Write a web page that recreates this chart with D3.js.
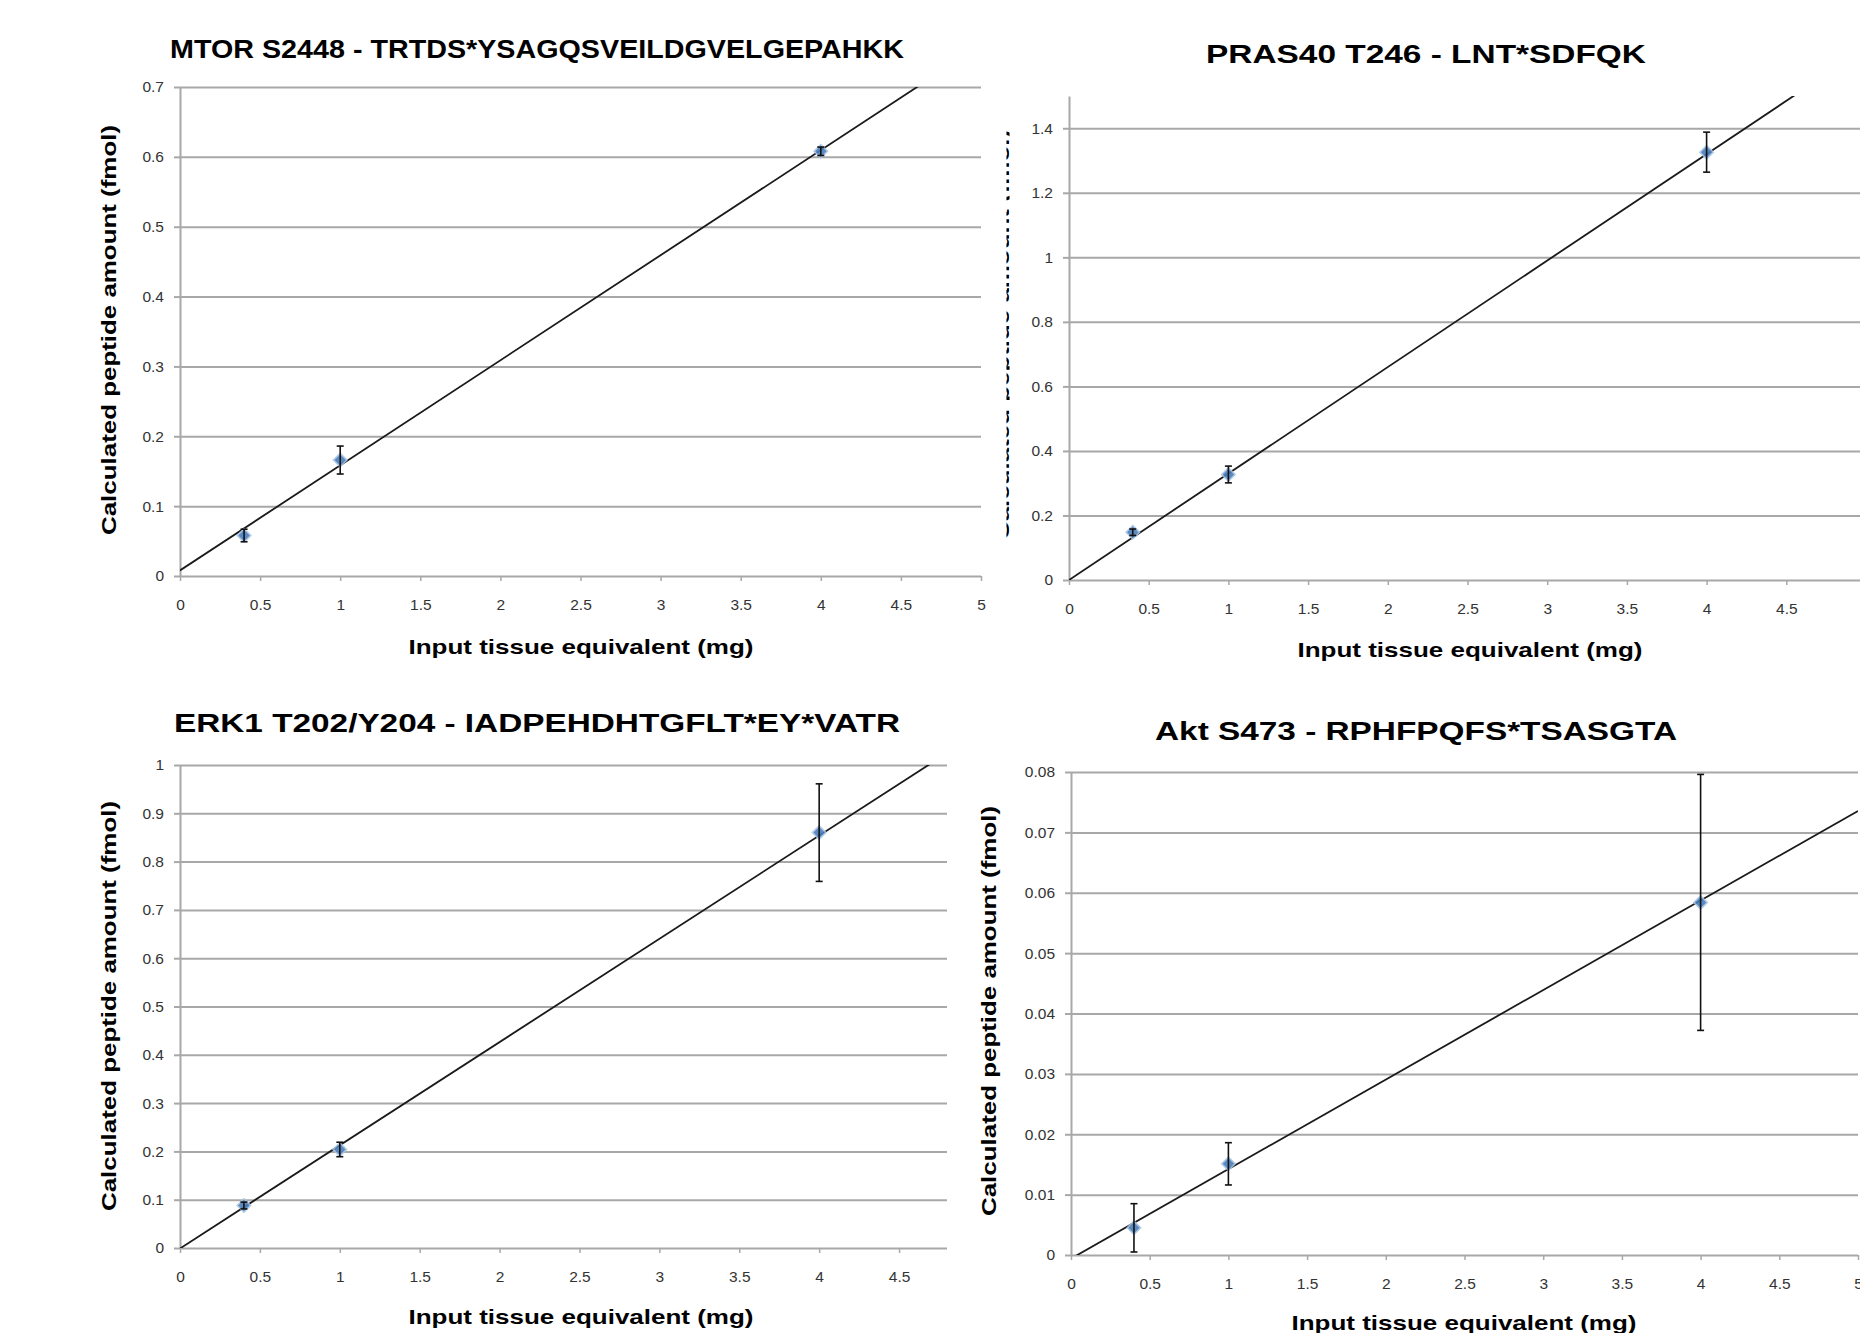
<!DOCTYPE html>
<html>
<head>
<meta charset="utf-8">
<script src="https://cdn.jsdelivr.net/npm/d3@7/dist/d3.min.js"></script>
<style>
    body { margin: 0; background: #fff; }
    svg { display: block; }
    text { font-family: "Liberation Sans", Arial, sans-serif; }
</style>
</head>
<body>
<div id="chart"></div>
<script>
// input tissue equivalent (mg) for every series
const inputMg = [0.4, 1, 4];

// calculated peptide amount (fmol), mean and error
const mtorMean = [0.058, 0.166, 0.608];
const mtorErr = [0.009, 0.02, 0.006];
const pras40Mean = [0.148, 0.327, 1.326];
const pras40Err = [0.01, 0.026, 0.062];
const erk1Mean = [0.088, 0.204, 0.86];
const erk1Err = [0.007, 0.015, 0.101];
const aktMean = [0.0045, 0.0151, 0.0584];
const aktErr = [0.004, 0.0035, 0.0212];

// linear trendlines: [slope, intercept]
const mtorFit = [0.1504, 0.008];
const pras40Fit = [0.33, 0.0];
const erk1Fit = [0.2137, -0.001];
const aktFit = [0.01483, -0.0006];

const titles = [
    "MTOR S2448 - TRTDS*YSAGQSVEILDGVELGEPAHKK",
    "PRAS40 T246 - LNT*SDFQK",
    "ERK1 T202/Y204 - IADPEHDHTGFLT*EY*VATR",
    "Akt S473 - RPHFPQFS*TSASGTA",
];
const xTitle = "Input tissue equivalent (mg)";
const yTitle = "Calculated peptide amount (fmol)";

// tick labels
const xTicks5 = [0, 0.5, 1, 1.5, 2, 2.5, 3, 3.5, 4, 4.5, 5];
const xTicks45 = [0, 0.5, 1, 1.5, 2, 2.5, 3, 3.5, 4, 4.5];
const mtorYTicks = [0, 0.1, 0.2, 0.3, 0.4, 0.5, 0.6, 0.7];
const pras40YTicks = [0, 0.2, 0.4, 0.6, 0.8, 1, 1.2, 1.4];
const erk1YTicks = [0, 0.1, 0.2, 0.3, 0.4, 0.5, 0.6, 0.7, 0.8, 0.9, 1];
const aktYTicks = [0, 0.01, 0.02, 0.03, 0.04, 0.05, 0.06, 0.07, 0.08];

const GRID_COLOR = "#a8a8a8";
const MARKER_COLOR = "#4a7ebb";

const W = 1860, H = 1333;

const svg = d3.select("#chart")
    .append("svg")
    .attr("width", W)
    .attr("height", H);

// layout of the four panels (pixel boxes)
const panels = [
    {
        id: "mtor", mean: mtorMean, err: mtorErr, fit: mtorFit,
        title: titles[0], xTicks: xTicks5, yTicks: mtorYTicks,
        xDomain: [0, 5], yDomain: [0, 0.7],
        left: 180, right: 981, bottom: 576, top: 87,
        titleX: 537, titleY: 58, titleLen: 734,
        xTitleX: 581, xTitleY: 654,
        yTitleX: 116, yTitleY: 330, showYTitle: true,
    },
    {
        id: "pras40", mean: pras40Mean, err: pras40Err, fit: pras40Fit,
        title: titles[1], xTicks: xTicks5, yTicks: pras40YTicks,
        xDomain: [0, 5], yDomain: [0, 1.5],
        left: 1069, right: 1866, bottom: 580, top: 96,
        titleX: 1426, titleY: 63, titleLen: 440,
        xTitleX: 1470, xTitleY: 657,
        yTitleX: 1009, yTitleY: 335, showYTitle: false,
    },
    {
        id: "erk1", mean: erk1Mean, err: erk1Err, fit: erk1Fit,
        title: titles[2], xTicks: xTicks45, yTicks: erk1YTicks,
        xDomain: [0, 4.8], yDomain: [0, 1],
        left: 180, right: 947, bottom: 1248, top: 765,
        titleX: 537, titleY: 732, titleLen: 726,
        xTitleX: 581, xTitleY: 1324,
        yTitleX: 116, yTitleY: 1006, showYTitle: true,
    },
    {
        id: "akt", mean: aktMean, err: aktErr, fit: aktFit,
        title: titles[3], xTicks: xTicks5, yTicks: aktYTicks,
        xDomain: [0, 5], yDomain: [0, 0.08],
        left: 1071, right: 1858, bottom: 1255, top: 772,
        titleX: 1416, titleY: 740, titleLen: 522,
        xTitleX: 1464, xTitleY: 1330,
        yTitleX: 996, yTitleY: 1011, showYTitle: true,
    },
];

const fmt = (d) => String(+d.toFixed(3));

panels.forEach(drawPanel);

function drawPanel(p) {
    const x = d3.scaleLinear().domain(p.xDomain).range([p.left, p.right]);
    const y = d3.scaleLinear().domain(p.yDomain).range([p.bottom, p.top]);
    const g = svg.append("g").attr("class", "panel " + p.id);
    const plotW = p.right - p.left;

    // horizontal gridlines
    g.append("g")
        .attr("transform", `translate(${p.left},0)`)
        .call(d3.axisLeft(y).tickValues(p.yTicks).tickSize(-plotW).tickFormat(""))
        .call((a) => a.select(".domain").remove())
        .call((a) => a.selectAll("line").attr("stroke", GRID_COLOR).attr("stroke-width", 2));

    // y axis with outside ticks
    g.append("g")
        .attr("transform", `translate(${p.left},0)`)
        .call(d3.axisLeft(y).tickValues(p.yTicks).tickSize(6).tickPadding(10).tickFormat(fmt).tickSizeOuter(0))
        .call((a) => a.select(".domain").attr("stroke", GRID_COLOR).attr("stroke-width", 2))
        .call((a) => a.selectAll("line").attr("stroke", GRID_COLOR).attr("stroke-width", 2))
        .call((a) => a.selectAll("text").attr("font-size", 15.5).attr("fill", "#333")
            .attr("font-family", '"Liberation Sans", Arial, sans-serif'));

    // x axis ticks below the zero gridline
    g.append("g")
        .attr("transform", `translate(0,${p.bottom})`)
        .call(d3.axisBottom(x).tickValues(p.xTicks).tickSize(5).tickPadding(18).tickFormat(fmt))
        .call((a) => a.select(".domain").remove())
        .call((a) => a.selectAll("line").attr("stroke", GRID_COLOR).attr("stroke-width", 1.5))
        .call((a) => a.selectAll("text").attr("font-size", 15.5).attr("fill", "#333")
            .attr("font-family", '"Liberation Sans", Arial, sans-serif'));

    // clip for the trendline
    const clipId = "clip-" + p.id;
    svg.append("clipPath").attr("id", clipId)
        .append("rect")
        .attr("x", p.left).attr("y", p.top)
        .attr("width", plotW).attr("height", p.bottom - p.top);

    const [slope, intercept] = p.fit;
    const fitPts = [p.xDomain[0], p.xDomain[1]].map((v) => [v, slope * v + intercept]);
    g.append("path")
        .attr("clip-path", `url(#${clipId})`)
        .attr("d", d3.line().x((d) => x(d[0])).y((d) => y(d[1]))(fitPts))
        .attr("fill", "none")
        .attr("stroke", "#1a1a1a")
        .attr("stroke-width", 1.8);

    const pts = inputMg.map((v, i) => ({ x: v, y: p.mean[i], e: p.err[i] }));

    // markers
    g.selectAll(".marker")
        .data(pts)
        .enter()
        .append("path")
        .attr("class", "marker")
        .attr("d", d3.symbol(d3.symbolSquare, 90))
        .attr("transform", (d) => `translate(${x(d.x)},${y(d.y)}) rotate(45)`)
        .attr("fill", MARKER_COLOR)
        .attr("stroke", "#a9c4e4")
        .attr("stroke-width", 1.5)
        .attr("opacity", 0.9);

    // error bars
    const eb = g.selectAll(".errbar").data(pts).enter().append("g").attr("class", "errbar")
        .attr("stroke", "#111").attr("stroke-width", 1.6);
    eb.append("line")
        .attr("x1", (d) => x(d.x)).attr("x2", (d) => x(d.x))
        .attr("y1", (d) => y(d.y - d.e)).attr("y2", (d) => y(d.y + d.e));
    [-1, 1].forEach((s) => {
        eb.append("line")
            .attr("x1", (d) => x(d.x) - 3.5).attr("x2", (d) => x(d.x) + 3.5)
            .attr("y1", (d) => y(d.y + s * d.e)).attr("y2", (d) => y(d.y + s * d.e));
    });

    // chart title
    g.append("text")
        .attr("x", p.titleX).attr("y", p.titleY)
        .attr("text-anchor", "middle")
        .attr("font-size", 25).attr("font-weight", "bold")
        .attr("textLength", p.titleLen).attr("lengthAdjust", "spacingAndGlyphs")
        .text(p.title);

    // x axis title
    g.append("text")
        .attr("x", p.xTitleX).attr("y", p.xTitleY)
        .attr("text-anchor", "middle")
        .attr("font-size", 21).attr("font-weight", "bold")
        .attr("textLength", 345).attr("lengthAdjust", "spacingAndGlyphs")
        .text(xTitle);

    // y axis title (the PRAS40 one is mostly cut off in the source figure)
    const ytHolder = g.append("g");
    ytHolder.append("text")
        .attr("transform", `translate(${p.yTitleX},${p.yTitleY}) rotate(-90)`)
        .attr("text-anchor", "middle")
        .attr("font-size", 21).attr("font-weight", "bold")
        .attr("textLength", 410).attr("lengthAdjust", "spacingAndGlyphs")
        .text(yTitle);
    if (!p.showYTitle) {
        svg.append("clipPath").attr("id", "clip-ytitle-" + p.id)
            .append("rect").attr("x", p.yTitleX - 2.5).attr("y", 0)
            .attr("width", 3).attr("height", 700);
        ytHolder.attr("clip-path", `url(#clip-ytitle-${p.id})`);
    }
}
</script>
</body>
</html>
